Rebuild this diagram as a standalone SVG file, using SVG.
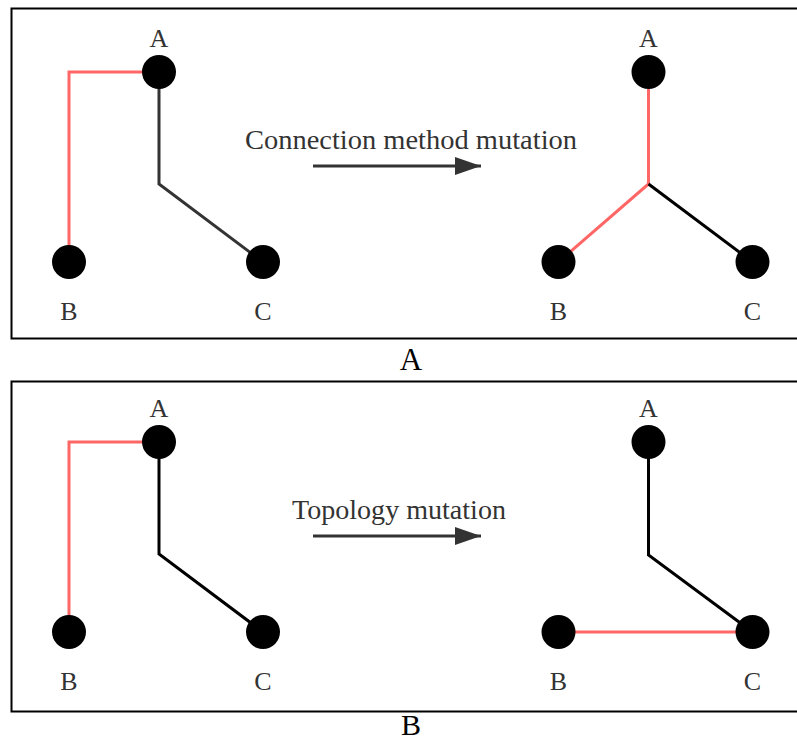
<svg xmlns="http://www.w3.org/2000/svg" width="797" height="742" viewBox="0 0 797 742">
<style>
.panel{fill:#fff;stroke:#000;stroke-width:2}
.node{fill:#000}
.lbl{font-family:"Liberation Serif","Times New Roman",serif;font-size:26px;fill:#333;text-anchor:middle}
.title{font-family:"Liberation Serif","Times New Roman",serif;font-size:28px;fill:#333;text-anchor:middle}
.cap{font-family:"Liberation Serif","Times New Roman",serif;font-size:31px;fill:#000;text-anchor:middle}
.red{fill:none;stroke:#ff6666;stroke-width:3}
.blk{fill:none;stroke:#000;stroke-width:3}
.gry{fill:none;stroke:#333;stroke-width:3}
.arr{fill:none;stroke:#333;stroke-width:3;marker-end:url(#ah)}
</style>
<defs>
<marker id="ah" markerUnits="userSpaceOnUse" markerWidth="28" markerHeight="20" refX="26" refY="9" orient="auto">
<path d="M0,0 L26,9 L0,18 Z" fill="#333"/>
</marker>
</defs>
<rect width="797" height="742" fill="#fff"/>
<rect class="panel" x="11.5" y="8.5" width="800" height="330"/>
<rect class="panel" x="11.5" y="381.5" width="800" height="330"/>
<text class="cap" x="411" y="370">A</text>
<text class="cap" x="411" y="735" style="font-size:30px">B</text>
<g id="connectors">
<path class="red" d="M159,72 H69 V262"/>
<path class="gry" d="M159,72 V184 L263,262"/>
<path class="red" d="M648.5,72 V184 L558.5,262"/>
<path class="blk" d="M648.5,184 L752.5,262"/>
<path class="arr" d="M313,166 H481"/>
<path class="red" d="M159,442 H69 V632"/>
<path class="blk" d="M159,442 V554 L263,632"/>
<path class="blk" d="M648.5,442 V555 L752.5,632"/>
<path class="red" d="M558.5,632 H752.5"/>
<path class="arr" d="M313,536 H481"/>
</g>
<text class="title" x="411" y="149" textLength="332" lengthAdjust="spacingAndGlyphs">Connection method mutation</text>
<text class="title" x="399" y="519" textLength="214" lengthAdjust="spacingAndGlyphs">Topology mutation</text>
<g id="pA-left-A"><circle class="node" cx="159" cy="72" r="17"/><text class="lbl" x="159" y="47">A</text></g>
<g id="pA-left-B"><circle class="node" cx="69" cy="262" r="17"/><text class="lbl" x="69" y="320">B</text></g>
<g id="pA-left-C"><circle class="node" cx="263" cy="262" r="17"/><text class="lbl" x="263" y="320">C</text></g>
<g id="pA-right-A"><circle class="node" cx="648.5" cy="72" r="17"/><text class="lbl" x="648.5" y="47">A</text></g>
<g id="pA-right-B"><circle class="node" cx="558.5" cy="262" r="17"/><text class="lbl" x="558.5" y="320">B</text></g>
<g id="pA-right-C"><circle class="node" cx="752.5" cy="262" r="17"/><text class="lbl" x="752.5" y="320">C</text></g>
<g id="pB-left-A"><circle class="node" cx="159" cy="442" r="17"/><text class="lbl" x="159" y="417">A</text></g>
<g id="pB-left-B"><circle class="node" cx="69" cy="632" r="17"/><text class="lbl" x="69" y="690">B</text></g>
<g id="pB-left-C"><circle class="node" cx="263" cy="632" r="17"/><text class="lbl" x="263" y="690">C</text></g>
<g id="pB-right-A"><circle class="node" cx="648.5" cy="442" r="17"/><text class="lbl" x="648.5" y="417">A</text></g>
<g id="pB-right-B"><circle class="node" cx="558.5" cy="632" r="17"/><text class="lbl" x="558.5" y="690">B</text></g>
<g id="pB-right-C"><circle class="node" cx="752.5" cy="632" r="17"/><text class="lbl" x="752.5" y="690">C</text></g>
</svg>
